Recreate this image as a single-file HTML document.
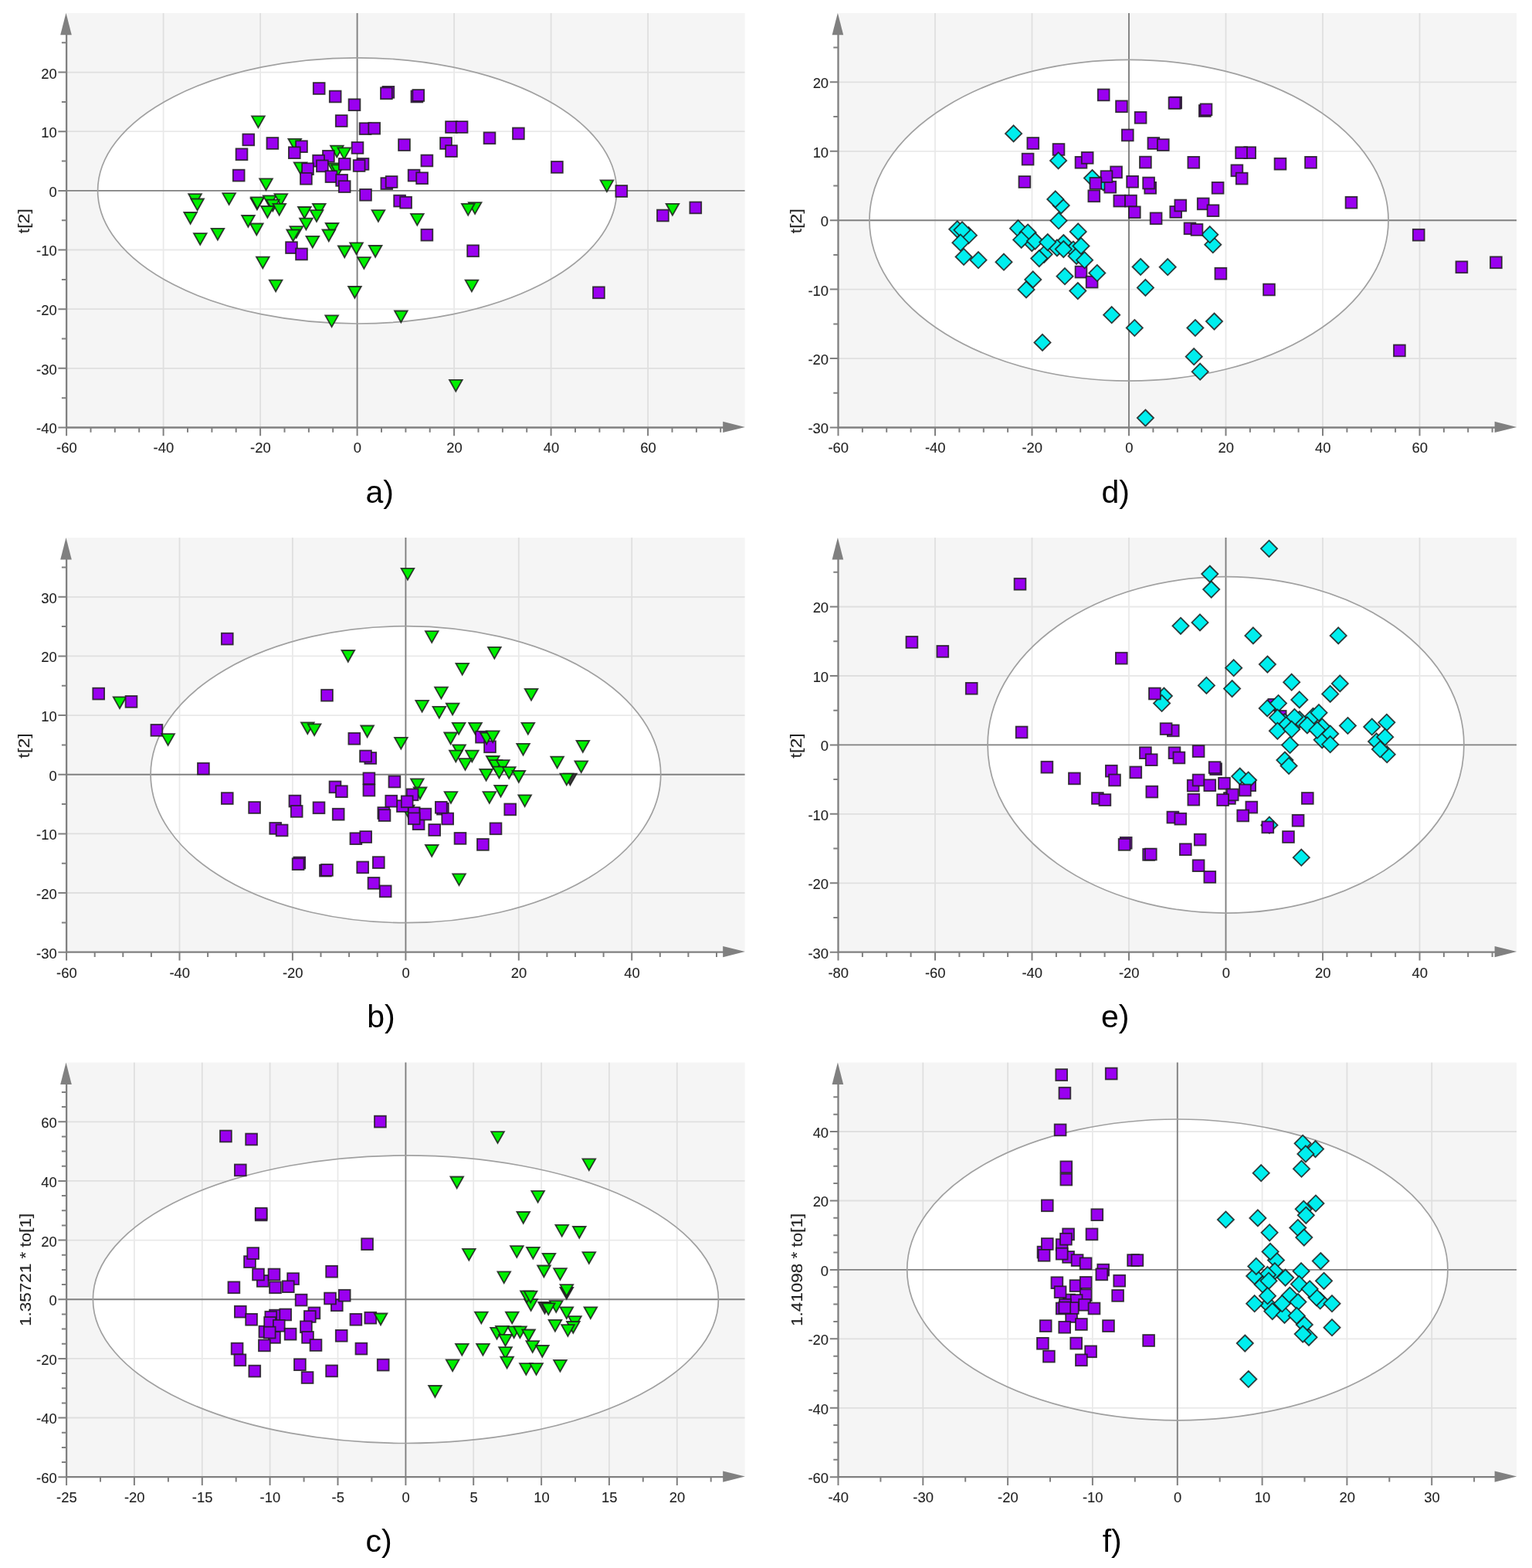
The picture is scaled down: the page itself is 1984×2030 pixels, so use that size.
<!DOCTYPE html>
<html lang="en">
<head>
<meta charset="utf-8">
<title>Score plots</title>
<style>
html,body{margin:0;padding:0;background:#fff}
body{width:1984px;height:2030px;overflow:hidden}
svg{display:block}
text{font-family:"Liberation Sans","DejaVu Sans",sans-serif}
.tl text{font-size:18.4px;fill:#222222;stroke:#222;stroke-width:.1px}
.at{font-size:20px;fill:#222222;stroke:#222;stroke-width:.1px}
.pl{font-size:41px;fill:#000}
.q{fill:#9a00f0;stroke:#1c1c1c;stroke-width:1.8;stroke-opacity:.85}
.t{fill:#00f000;stroke:#1c1c1c;stroke-width:1.8;stroke-linejoin:miter;stroke-opacity:.85}
.k{fill:#3a3a3a}
.d{fill:#00eeee;stroke:#1c1c1c;stroke-width:1.8;stroke-linejoin:miter;stroke-opacity:.85}
</style>
</head>
<body>
<svg width="1984" height="2030" viewBox="0 0 1984 2030">
<rect width="1984" height="2030" fill="#fff"/>
<g>
<rect x="86.1" y="16.9" width="878.5" height="536.6" fill="#f5f5f5"/>
<ellipse cx="462.6" cy="246.9" rx="336" ry="172.1" fill="#fff"/>
<path d="M211.6 16.9V553.5M337.1 16.9V553.5M588.1 16.9V553.5M713.6 16.9V553.5M839.1 16.9V553.5M86.1 476.8H964.6M86.1 400.2H964.6M86.1 323.5H964.6M86.1 170.2H964.6M86.1 93.6H964.6" stroke="#000" stroke-opacity="0.085" stroke-width="1.8" fill="none"/>
<path d="M462.6 16.9V553.5M86.1 246.9H964.6" stroke="#808080" stroke-width="1.9" fill="none"/>
<ellipse cx="462.6" cy="246.9" rx="336" ry="172.1" fill="none" stroke="#a0a0a0" stroke-width="1.7"/>
<path class="t k" d="M324.6 256.7h16.7l-8.4 14.8z"/>
<rect class="q" x="495.5" y="111.9" width="14.8" height="14.8"/>
<rect class="q" x="532.5" y="117.6" width="14.8" height="14.8"/>
<path class="t" d="M326.1 150.4h16.7l-8.4 14.8z"/>
<path class="t" d="M336.2 231.3h16.7l-8.4 14.8z"/>
<path class="t" d="M373.4 179.8h16.7l-8.4 14.8z"/>
<path class="t" d="M428 188.6h16.7l-8.4 14.8z"/>
<path class="t" d="M437.4 191.4h16.7l-8.4 14.8z"/>
<path class="t" d="M380.7 210.3h16.7l-8.4 14.8z"/>
<path class="t" d="M424.8 211.3h16.7l-8.4 14.8z"/>
<path class="t" d="M429 213.4h16.7l-8.4 14.8z"/>
<path class="t" d="M244.2 251.2h16.7l-8.4 14.8z"/>
<path class="t" d="M247.3 257.5h16.7l-8.4 14.8z"/>
<path class="t" d="M288.3 250.2h16.7l-8.4 14.8z"/>
<path class="t" d="M238.3 275h16.7l-8.4 14.8z"/>
<path class="t" d="M250.9 302.1h16.7l-8.4 14.8z"/>
<path class="t" d="M273.6 295.8h16.7l-8.4 14.8z"/>
<path class="t" d="M325 255.4h16.7l-8.4 14.8z"/>
<path class="t" d="M340.8 253.3h16.7l-8.4 14.8z"/>
<path class="t" d="M355.5 251.2h16.7l-8.4 14.8z"/>
<path class="t" d="M345 258.6h16.7l-8.4 14.8z"/>
<path class="t" d="M353.4 263.8h16.7l-8.4 14.8z"/>
<path class="t" d="M338.1 267h16.7l-8.4 14.8z"/>
<path class="t" d="M313.1 279h16.7l-8.4 14.8z"/>
<path class="t" d="M324 289.5h16.7l-8.4 14.8z"/>
<path class="t" d="M386 268h16.7l-8.4 14.8z"/>
<path class="t" d="M404.9 263.8h16.7l-8.4 14.8z"/>
<path class="t" d="M401.7 272.2h16.7l-8.4 14.8z"/>
<path class="t" d="M388.1 282.7h16.7l-8.4 14.8z"/>
<path class="t" d="M375.5 293.2h16.7l-8.4 14.8z"/>
<path class="t" d="M371.3 297.5h16.7l-8.4 14.8z"/>
<path class="t" d="M396.5 305.9h16.7l-8.4 14.8z"/>
<path class="t" d="M421.7 289h16.7l-8.4 14.8z"/>
<path class="t" d="M417.5 297.5h16.7l-8.4 14.8z"/>
<path class="t" d="M481.6 272.2h16.7l-8.4 14.8z"/>
<path class="t" d="M532 276.9h16.7l-8.4 14.8z"/>
<path class="t" d="M453.2 314.3h16.7l-8.4 14.8z"/>
<path class="t" d="M437.9 318.5h16.7l-8.4 14.8z"/>
<path class="t" d="M477.8 318h16.7l-8.4 14.8z"/>
<path class="t" d="M463.1 333.2h16.7l-8.4 14.8z"/>
<path class="t" d="M332 332.7h16.7l-8.4 14.8z"/>
<path class="t" d="M777.6 233.4h16.7l-8.4 14.8z"/>
<path class="t" d="M862.6 263.8h16.7l-8.4 14.8z"/>
<path class="t" d="M606.8 262.2h16.7l-8.4 14.8z"/>
<path class="t" d="M597.9 263.8h16.7l-8.4 14.8z"/>
<path class="t" d="M348.8 362.6h16.7l-8.4 14.8z"/>
<path class="t" d="M451.1 371h16.7l-8.4 14.8z"/>
<path class="t" d="M421.3 408.4h16.7l-8.4 14.8z"/>
<path class="t" d="M511 402.5h16.7l-8.4 14.8z"/>
<path class="t" d="M582 491.8h16.7l-8.4 14.8z"/>
<path class="t" d="M602.6 362.6h16.7l-8.4 14.8z"/>
<rect class="q" x="405.8" y="107.1" width="14.8" height="14.8"/>
<rect class="q" x="426.8" y="117.6" width="14.8" height="14.8"/>
<rect class="q" x="451.6" y="128.3" width="14.8" height="14.8"/>
<rect class="q" x="493" y="113.4" width="14.8" height="14.8"/>
<rect class="q" x="534.4" y="116.1" width="14.8" height="14.8"/>
<rect class="q" x="434.8" y="149.1" width="14.8" height="14.8"/>
<rect class="q" x="465.7" y="159.2" width="14.8" height="14.8"/>
<rect class="q" x="477.3" y="158.8" width="14.8" height="14.8"/>
<rect class="q" x="577.1" y="157.1" width="14.8" height="14.8"/>
<rect class="q" x="590.7" y="157.1" width="14.8" height="14.8"/>
<rect class="q" x="314.4" y="173.5" width="14.8" height="14.8"/>
<rect class="q" x="345.5" y="178.1" width="14.8" height="14.8"/>
<rect class="q" x="383.1" y="182.3" width="14.8" height="14.8"/>
<rect class="q" x="373.9" y="190.3" width="14.8" height="14.8"/>
<rect class="q" x="305.6" y="192.4" width="14.8" height="14.8"/>
<rect class="q" x="455.6" y="184" width="14.8" height="14.8"/>
<rect class="q" x="516.1" y="180.2" width="14.8" height="14.8"/>
<rect class="q" x="570.1" y="178.1" width="14.8" height="14.8"/>
<rect class="q" x="577.1" y="188.2" width="14.8" height="14.8"/>
<rect class="q" x="418" y="194.9" width="14.8" height="14.8"/>
<rect class="q" x="405.2" y="200.8" width="14.8" height="14.8"/>
<rect class="q" x="410" y="207.5" width="14.8" height="14.8"/>
<rect class="q" x="438.8" y="205" width="14.8" height="14.8"/>
<rect class="q" x="462.6" y="205" width="14.8" height="14.8"/>
<rect class="q" x="457.7" y="207.1" width="14.8" height="14.8"/>
<rect class="q" x="545.5" y="200.6" width="14.8" height="14.8"/>
<rect class="q" x="391.1" y="211.3" width="14.8" height="14.8"/>
<rect class="q" x="301.8" y="219.7" width="14.8" height="14.8"/>
<rect class="q" x="389" y="223.9" width="14.8" height="14.8"/>
<rect class="q" x="421.6" y="221.2" width="14.8" height="14.8"/>
<rect class="q" x="435.2" y="226" width="14.8" height="14.8"/>
<rect class="q" x="438.8" y="234.2" width="14.8" height="14.8"/>
<rect class="q" x="528.7" y="219.7" width="14.8" height="14.8"/>
<rect class="q" x="539.2" y="223.3" width="14.8" height="14.8"/>
<rect class="q" x="493.4" y="230.2" width="14.8" height="14.8"/>
<rect class="q" x="499.7" y="228.1" width="14.8" height="14.8"/>
<rect class="q" x="466.1" y="244.9" width="14.8" height="14.8"/>
<rect class="q" x="510.2" y="252.7" width="14.8" height="14.8"/>
<rect class="q" x="518.2" y="254.8" width="14.8" height="14.8"/>
<rect class="q" x="545.5" y="296.8" width="14.8" height="14.8"/>
<rect class="q" x="370.1" y="313.2" width="14.8" height="14.8"/>
<rect class="q" x="383.1" y="321.6" width="14.8" height="14.8"/>
<rect class="q" x="626.6" y="171.4" width="14.8" height="14.8"/>
<rect class="q" x="664" y="165.5" width="14.8" height="14.8"/>
<rect class="q" x="714" y="209" width="14.8" height="14.8"/>
<rect class="q" x="797.4" y="240.1" width="14.8" height="14.8"/>
<rect class="q" x="851" y="271.6" width="14.8" height="14.8"/>
<rect class="q" x="893.4" y="261.5" width="14.8" height="14.8"/>
<rect class="q" x="605.2" y="317.4" width="14.8" height="14.8"/>
<rect class="q" x="768" y="371.4" width="14.8" height="14.8"/>
<path d="M86.1 36.9V553.5H944.6" stroke="#808080" stroke-width="2.3" fill="none" stroke-linejoin="miter"/>
<path d="M85.5 16.7l7.3 28.6h-14.6z" fill="#808080"/>
<path d="M964.8 552.9l-28.6 -7.2v14.4z" fill="#808080"/>
<path d="M86.1 553.5v10.7M117.5 553.5v6.2M148.8 553.5v6.2M180.2 553.5v6.2M211.6 553.5v10.7M243 553.5v6.2M274.4 553.5v6.2M305.7 553.5v6.2M337.1 553.5v10.7M368.5 553.5v6.2M399.9 553.5v6.2M431.2 553.5v6.2M462.6 553.5v10.7M494 553.5v6.2M525.4 553.5v6.2M556.7 553.5v6.2M588.1 553.5v10.7M619.5 553.5v6.2M650.9 553.5v6.2M682.2 553.5v6.2M713.6 553.5v10.7M745 553.5v6.2M776.4 553.5v6.2M807.7 553.5v6.2M839.1 553.5v10.7M870.5 553.5v6.2M901.9 553.5v6.2M933.2 553.5v6.2M86.1 553.5h-10.7M86.1 515.2h-6.2M86.1 476.8h-10.7M86.1 438.5h-6.2M86.1 400.2h-10.7M86.1 361.9h-6.2M86.1 323.5h-10.7M86.1 285.2h-6.2M86.1 246.9h-10.7M86.1 208.5h-6.2M86.1 170.2h-10.7M86.1 131.9h-6.2M86.1 93.6h-10.7M86.1 55.2h-6.2" stroke="#808080" stroke-width="2.0" fill="none"/>
<g class="tl" text-anchor="middle">
<text x="86.4" y="586">-60</text>
<text x="211.9" y="586">-40</text>
<text x="337.4" y="586">-20</text>
<text x="462.9" y="586">0</text>
<text x="588.4" y="586">20</text>
<text x="713.9" y="586">40</text>
<text x="839.4" y="586">60</text>
</g>
<g class="tl" text-anchor="end">
<text x="73.7" y="561.4">-40</text>
<text x="73.7" y="484.7">-30</text>
<text x="73.7" y="408.1">-20</text>
<text x="73.7" y="331.4">-10</text>
<text x="73.7" y="254.8">0</text>
<text x="73.7" y="178.1">10</text>
<text x="73.7" y="101.5">20</text>
</g>
<text class="at" text-anchor="middle" transform="translate(38.3 286.2) rotate(-90)" textLength="32" lengthAdjust="spacingAndGlyphs">t[2]</text>
<text class="pl" text-anchor="middle" x="491.8" y="651.4">a)</text>
</g>
<g>
<rect x="86.1" y="696.1" width="878.5" height="536.6" fill="#f5f5f5"/>
<ellipse cx="525.4" cy="1002.7" rx="330.3" ry="192" fill="#fff"/>
<path d="M232.5 696.1V1232.7M378.9 696.1V1232.7M671.8 696.1V1232.7M818.2 696.1V1232.7M86.1 1156H964.6M86.1 1079.4H964.6M86.1 926.1H964.6M86.1 849.4H964.6M86.1 772.8H964.6" stroke="#000" stroke-opacity="0.085" stroke-width="1.8" fill="none"/>
<path d="M525.4 696.1V1232.7M86.1 1002.7H964.6" stroke="#808080" stroke-width="1.9" fill="none"/>
<ellipse cx="525.4" cy="1002.7" rx="330.3" ry="192" fill="none" stroke="#a0a0a0" stroke-width="1.7"/>
<path class="t k" d="M730.1 1001.6h16.7l-8.4 14.8z"/>
<path class="t" d="M519.9 1042.6h16.7l-8.4 14.8z"/>
<path class="t" d="M586.2 964.3h16.7l-8.4 14.8z"/>
<path class="t" d="M629.9 979h16.7l-8.4 14.8z"/>
<rect class="q" x="472.4" y="974.1" width="14.8" height="14.8"/>
<rect class="q" x="380.4" y="1109.6" width="14.8" height="14.8"/>
<rect class="q" x="414" y="1119.7" width="14.8" height="14.8"/>
<rect class="q" x="514" y="1036.2" width="14.8" height="14.8"/>
<rect class="q" x="489.4" y="1045.1" width="14.8" height="14.8"/>
<rect class="q" x="528.8" y="1045.1" width="14.8" height="14.8"/>
<rect class="q" x="534.7" y="1059.3" width="14.8" height="14.8"/>
<rect class="q" x="566" y="1039.8" width="14.8" height="14.8"/>
<rect class="q" x="572.3" y="1052.6" width="14.8" height="14.8"/>
<path class="t" d="M442.5 842h16.7l-8.4 14.8z"/>
<path class="t" d="M146.7 902.3h16.7l-8.4 14.8z"/>
<path class="t" d="M390 935.3h16.7l-8.4 14.8z"/>
<path class="t" d="M398.8 937.4h16.7l-8.4 14.8z"/>
<path class="t" d="M467.3 939.5h16.7l-8.4 14.8z"/>
<path class="t" d="M519.6 735.9h16.7l-8.4 14.8z"/>
<path class="t" d="M550.9 817.2h16.7l-8.4 14.8z"/>
<path class="t" d="M632 837.8h16.7l-8.4 14.8z"/>
<path class="t" d="M590.4 858.8h16.7l-8.4 14.8z"/>
<path class="t" d="M563.1 889.7h16.7l-8.4 14.8z"/>
<path class="t" d="M679.7 891.8h16.7l-8.4 14.8z"/>
<path class="t" d="M538.3 906.9h16.7l-8.4 14.8z"/>
<path class="t" d="M560.5 914.9h16.7l-8.4 14.8z"/>
<path class="t" d="M577.8 910.7h16.7l-8.4 14.8z"/>
<path class="t" d="M585.8 935.9h16.7l-8.4 14.8z"/>
<path class="t" d="M607.2 935.9h16.7l-8.4 14.8z"/>
<path class="t" d="M675.5 935.9h16.7l-8.4 14.8z"/>
<path class="t" d="M575.3 948.5h16.7l-8.4 14.8z"/>
<path class="t" d="M511 954.8h16.7l-8.4 14.8z"/>
<path class="t" d="M669.2 962.8h16.7l-8.4 14.8z"/>
<path class="t" d="M746.5 959h16.7l-8.4 14.8z"/>
<path class="t" d="M582 971.6h16.7l-8.4 14.8z"/>
<path class="t" d="M603 971.6h16.7l-8.4 14.8z"/>
<path class="t" d="M594.2 982.1h16.7l-8.4 14.8z"/>
<path class="t" d="M713.3 979.6h16.7l-8.4 14.8z"/>
<path class="t" d="M633.4 984.2h16.7l-8.4 14.8z"/>
<path class="t" d="M642.9 984.2h16.7l-8.4 14.8z"/>
<path class="t" d="M744.4 985.3h16.7l-8.4 14.8z"/>
<path class="t" d="M638.1 992.6h16.7l-8.4 14.8z"/>
<path class="t" d="M650.9 993.2h16.7l-8.4 14.8z"/>
<path class="t" d="M663.5 998h16.7l-8.4 14.8z"/>
<path class="t" d="M725.5 1001.6h16.7l-8.4 14.8z"/>
<path class="t" d="M671.3 1029.3h16.7l-8.4 14.8z"/>
<path class="t" d="M586.2 1131.4h16.7l-8.4 14.8z"/>
<path class="t" d="M621.3 995.8h16.7l-8.4 14.8z"/>
<path class="t" d="M532 1008.4h16.7l-8.4 14.8z"/>
<path class="t" d="M535.7 1019.5h16.7l-8.4 14.8z"/>
<path class="t" d="M575.6 1025.2h16.7l-8.4 14.8z"/>
<path class="t" d="M625.5 1025.2h16.7l-8.4 14.8z"/>
<path class="t" d="M640.2 1016.8h16.7l-8.4 14.8z"/>
<path class="t" d="M550.9 1094h16.7l-8.4 14.8z"/>
<rect class="q" x="286.9" y="819.7" width="14.8" height="14.8"/>
<rect class="q" x="120.3" y="890.7" width="14.8" height="14.8"/>
<rect class="q" x="162.6" y="901" width="14.8" height="14.8"/>
<rect class="q" x="195.5" y="938" width="14.8" height="14.8"/>
<rect class="q" x="416.1" y="892.8" width="14.8" height="14.8"/>
<rect class="q" x="451.4" y="948.9" width="14.8" height="14.8"/>
<rect class="q" x="466.1" y="971.6" width="14.8" height="14.8"/>
<rect class="q" x="256" y="987.8" width="14.8" height="14.8"/>
<rect class="q" x="616.1" y="946.8" width="14.8" height="14.8"/>
<rect class="q" x="627.1" y="959.4" width="14.8" height="14.8"/>
<rect class="q" x="286.9" y="1026.2" width="14.8" height="14.8"/>
<rect class="q" x="322.2" y="1038.1" width="14.8" height="14.8"/>
<rect class="q" x="374.5" y="1029.7" width="14.8" height="14.8"/>
<rect class="q" x="376.8" y="1043" width="14.8" height="14.8"/>
<rect class="q" x="405.6" y="1038.4" width="14.8" height="14.8"/>
<rect class="q" x="426.6" y="1011.5" width="14.8" height="14.8"/>
<rect class="q" x="435" y="1017.3" width="14.8" height="14.8"/>
<rect class="q" x="430.8" y="1046.8" width="14.8" height="14.8"/>
<rect class="q" x="349.3" y="1065" width="14.8" height="14.8"/>
<rect class="q" x="357.7" y="1067.6" width="14.8" height="14.8"/>
<rect class="q" x="453.5" y="1078.3" width="14.8" height="14.8"/>
<rect class="q" x="378.7" y="1111.3" width="14.8" height="14.8"/>
<rect class="q" x="416.1" y="1119" width="14.8" height="14.8"/>
<rect class="q" x="476.6" y="1136" width="14.8" height="14.8"/>
<rect class="q" x="491.8" y="1146.5" width="14.8" height="14.8"/>
<rect class="q" x="653.3" y="1040.5" width="14.8" height="14.8"/>
<rect class="q" x="470.5" y="1000.4" width="14.8" height="14.8"/>
<rect class="q" x="470.5" y="1015.7" width="14.8" height="14.8"/>
<rect class="q" x="503.5" y="1004.6" width="14.8" height="14.8"/>
<rect class="q" x="499.3" y="1029.8" width="14.8" height="14.8"/>
<rect class="q" x="526.7" y="1021.4" width="14.8" height="14.8"/>
<rect class="q" x="490.6" y="1048.2" width="14.8" height="14.8"/>
<rect class="q" x="543.5" y="1046.7" width="14.8" height="14.8"/>
<rect class="q" x="563.9" y="1037.9" width="14.8" height="14.8"/>
<rect class="q" x="555.3" y="1067.1" width="14.8" height="14.8"/>
<rect class="q" x="588.6" y="1078" width="14.8" height="14.8"/>
<rect class="q" x="618" y="1086" width="14.8" height="14.8"/>
<rect class="q" x="634.6" y="1065.4" width="14.8" height="14.8"/>
<rect class="q" x="466.3" y="1076.1" width="14.8" height="14.8"/>
<rect class="q" x="482.9" y="1109.2" width="14.8" height="14.8"/>
<rect class="q" x="462.3" y="1115.5" width="14.8" height="14.8"/>
<rect class="q" x="519.8" y="1030.4" width="14.8" height="14.8"/>
<rect class="q" x="528.8" y="1052.4" width="14.8" height="14.8"/>
<path class="t" d="M209.3 950.2h16.7l-8.4 14.8z"/>
<path class="t" d="M621.9 948.5h16.7l-8.4 14.8z"/>
<path class="t" d="M629.9 946.4h16.7l-8.4 14.8z"/>
<path d="M86.1 716.1V1232.7H944.6" stroke="#808080" stroke-width="2.3" fill="none" stroke-linejoin="miter"/>
<path d="M85.5 695.9l7.3 28.6h-14.6z" fill="#808080"/>
<path d="M964.8 1232.1l-28.6 -7.2v14.4z" fill="#808080"/>
<path d="M86.1 1232.7v10.7M122.7 1232.7v6.2M159.3 1232.7v6.2M195.9 1232.7v6.2M232.5 1232.7v10.7M269.1 1232.7v6.2M305.7 1232.7v6.2M342.3 1232.7v6.2M378.9 1232.7v10.7M415.5 1232.7v6.2M452.1 1232.7v6.2M488.7 1232.7v6.2M525.4 1232.7v10.7M562 1232.7v6.2M598.6 1232.7v6.2M635.2 1232.7v6.2M671.8 1232.7v10.7M708.4 1232.7v6.2M745 1232.7v6.2M781.6 1232.7v6.2M818.2 1232.7v10.7M854.8 1232.7v6.2M891.4 1232.7v6.2M928 1232.7v6.2M86.1 1232.7h-10.7M86.1 1194.4h-6.2M86.1 1156h-10.7M86.1 1117.7h-6.2M86.1 1079.4h-10.7M86.1 1041.1h-6.2M86.1 1002.7h-10.7M86.1 964.4h-6.2M86.1 926.1h-10.7M86.1 887.7h-6.2M86.1 849.4h-10.7M86.1 811.1h-6.2M86.1 772.8h-10.7M86.1 734.4h-6.2" stroke="#808080" stroke-width="2.0" fill="none"/>
<g class="tl" text-anchor="middle">
<text x="86.4" y="1265.7">-60</text>
<text x="232.8" y="1265.7">-40</text>
<text x="379.2" y="1265.7">-20</text>
<text x="525.6" y="1265.7">0</text>
<text x="672.1" y="1265.7">20</text>
<text x="818.5" y="1265.7">40</text>
</g>
<g class="tl" text-anchor="end">
<text x="73.7" y="1240.6">-30</text>
<text x="73.7" y="1163.9">-20</text>
<text x="73.7" y="1087.3">-10</text>
<text x="73.7" y="1010.6">0</text>
<text x="73.7" y="934">10</text>
<text x="73.7" y="857.3">20</text>
<text x="73.7" y="780.7">30</text>
</g>
<text class="at" text-anchor="middle" transform="translate(38.3 965.4) rotate(-90)" textLength="32" lengthAdjust="spacingAndGlyphs">t[2]</text>
<text class="pl" text-anchor="middle" x="493.4" y="1330.4">b)</text>
</g>
<g>
<rect x="86.1" y="1375.6" width="878.5" height="536.6" fill="#f5f5f5"/>
<ellipse cx="525.4" cy="1682.2" rx="405" ry="186.3" fill="#fff"/>
<path d="M173.9 1375.6V1912.2M261.8 1375.6V1912.2M349.6 1375.6V1912.2M437.5 1375.6V1912.2M613.2 1375.6V1912.2M701.1 1375.6V1912.2M788.9 1375.6V1912.2M876.8 1375.6V1912.2M86.1 1835.5H964.6M86.1 1758.9H964.6M86.1 1605.6H964.6M86.1 1528.9H964.6M86.1 1452.3H964.6" stroke="#000" stroke-opacity="0.085" stroke-width="1.8" fill="none"/>
<path d="M525.4 1375.6V1912.2M86.1 1682.2H964.6" stroke="#808080" stroke-width="1.9" fill="none"/>
<ellipse cx="525.4" cy="1682.2" rx="405" ry="186.3" fill="none" stroke="#a0a0a0" stroke-width="1.7"/>
<path class="t k" d="M725.5 1666.9h16.7l-8.4 14.8z"/>
<path class="t k" d="M697.2 1685.8h16.7l-8.4 14.8z"/>
<path class="t" d="M679.3 1682.1h16.7l-8.4 14.8z"/>
<rect class="q" x="349.1" y="1695.7" width="14.8" height="14.8"/>
<path class="t" d="M674.1 1671.3h16.7l-8.4 14.8z"/>
<path class="t" d="M711.9 1684.2h16.7l-8.4 14.8z"/>
<path class="t" d="M736.1 1704.2h16.7l-8.4 14.8z"/>
<path class="t" d="M734 1711h16.7l-8.4 14.8z"/>
<path class="t" d="M635.2 1718.9h16.7l-8.4 14.8z"/>
<path class="t" d="M657.3 1717.3h16.7l-8.4 14.8z"/>
<rect class="q" x="330.8" y="1565.5" width="14.8" height="14.8"/>
<rect class="q" x="316.1" y="1626.2" width="14.8" height="14.8"/>
<rect class="q" x="332.9" y="1651" width="14.8" height="14.8"/>
<rect class="q" x="372.2" y="1648.2" width="14.8" height="14.8"/>
<rect class="q" x="428.9" y="1682.4" width="14.8" height="14.8"/>
<rect class="q" x="343.4" y="1697.8" width="14.8" height="14.8"/>
<rect class="q" x="399.5" y="1692.5" width="14.8" height="14.8"/>
<rect class="q" x="335.5" y="1716.7" width="14.8" height="14.8"/>
<rect class="q" x="348.1" y="1724" width="14.8" height="14.8"/>
<rect class="q" x="342.2" y="1705.1" width="14.8" height="14.8"/>
<path class="t" d="M583.4 1523.5h16.7l-8.4 14.8z"/>
<path class="t" d="M636.2 1465.1h16.7l-8.4 14.8z"/>
<path class="t" d="M754.5 1500.4h16.7l-8.4 14.8z"/>
<path class="t" d="M688.3 1541.9h16.7l-8.4 14.8z"/>
<path class="t" d="M669.4 1569h16.7l-8.4 14.8z"/>
<path class="t" d="M719.4 1585.9h16.7l-8.4 14.8z"/>
<path class="t" d="M741.9 1588h16.7l-8.4 14.8z"/>
<path class="t" d="M599 1616.9h16.7l-8.4 14.8z"/>
<path class="t" d="M661 1613.2h16.7l-8.4 14.8z"/>
<path class="t" d="M682 1614.8h16.7l-8.4 14.8z"/>
<path class="t" d="M702.6 1622.8h16.7l-8.4 14.8z"/>
<path class="t" d="M754.5 1621.1h16.7l-8.4 14.8z"/>
<path class="t" d="M577.8 1760.4h16.7l-8.4 14.8z"/>
<path class="t" d="M555.1 1794h16.7l-8.4 14.8z"/>
<path class="t" d="M644.4 1646.4h16.7l-8.4 14.8z"/>
<path class="t" d="M696.1 1638.5h16.7l-8.4 14.8z"/>
<path class="t" d="M717.1 1642.2h16.7l-8.4 14.8z"/>
<path class="t" d="M725.5 1663.2h16.7l-8.4 14.8z"/>
<path class="t" d="M678.8 1671.6h16.7l-8.4 14.8z"/>
<path class="t" d="M701.9 1687.3h16.7l-8.4 14.8z"/>
<path class="t" d="M725.5 1692.3h16.7l-8.4 14.8z"/>
<path class="t" d="M756.5 1692.3h16.7l-8.4 14.8z"/>
<path class="t" d="M615 1698.6h16.7l-8.4 14.8z"/>
<path class="t" d="M654.9 1698.6h16.7l-8.4 14.8z"/>
<path class="t" d="M710.6 1708.9h16.7l-8.4 14.8z"/>
<path class="t" d="M727.1 1715.2h16.7l-8.4 14.8z"/>
<path class="t" d="M642 1716.8h16.7l-8.4 14.8z"/>
<path class="t" d="M665.1 1717.3h16.7l-8.4 14.8z"/>
<path class="t" d="M676.2 1721.5h16.7l-8.4 14.8z"/>
<path class="t" d="M646.2 1727.8h16.7l-8.4 14.8z"/>
<path class="t" d="M681.4 1736.2h16.7l-8.4 14.8z"/>
<path class="t" d="M694 1742h16.7l-8.4 14.8z"/>
<path class="t" d="M590 1739.9h16.7l-8.4 14.8z"/>
<path class="t" d="M617.1 1739.9h16.7l-8.4 14.8z"/>
<path class="t" d="M646.2 1744.1h16.7l-8.4 14.8z"/>
<path class="t" d="M648.3 1756.7h16.7l-8.4 14.8z"/>
<path class="t" d="M673 1765.1h16.7l-8.4 14.8z"/>
<path class="t" d="M686.2 1765.1h16.7l-8.4 14.8z"/>
<path class="t" d="M717.1 1760.9h16.7l-8.4 14.8z"/>
<rect class="q" x="485" y="1444.7" width="14.8" height="14.8"/>
<rect class="q" x="285" y="1463.6" width="14.8" height="14.8"/>
<rect class="q" x="318.2" y="1467.6" width="14.8" height="14.8"/>
<rect class="q" x="303.9" y="1507.5" width="14.8" height="14.8"/>
<rect class="q" x="330.8" y="1563.8" width="14.8" height="14.8"/>
<rect class="q" x="468.2" y="1603.3" width="14.8" height="14.8"/>
<rect class="q" x="320.3" y="1615.2" width="14.8" height="14.8"/>
<rect class="q" x="422.2" y="1638.8" width="14.8" height="14.8"/>
<rect class="q" x="327.1" y="1642.6" width="14.8" height="14.8"/>
<rect class="q" x="347.6" y="1642.6" width="14.8" height="14.8"/>
<rect class="q" x="295.5" y="1659.4" width="14.8" height="14.8"/>
<rect class="q" x="349.1" y="1659.4" width="14.8" height="14.8"/>
<rect class="q" x="365.9" y="1658.3" width="14.8" height="14.8"/>
<rect class="q" x="382.7" y="1675.7" width="14.8" height="14.8"/>
<rect class="q" x="420.1" y="1673.6" width="14.8" height="14.8"/>
<rect class="q" x="438.8" y="1669.8" width="14.8" height="14.8"/>
<rect class="q" x="303.9" y="1690.8" width="14.8" height="14.8"/>
<rect class="q" x="318.2" y="1700.9" width="14.8" height="14.8"/>
<rect class="q" x="362.3" y="1694.6" width="14.8" height="14.8"/>
<rect class="q" x="393.9" y="1697.1" width="14.8" height="14.8"/>
<rect class="q" x="453.5" y="1700.9" width="14.8" height="14.8"/>
<rect class="q" x="472.4" y="1698.8" width="14.8" height="14.8"/>
<rect class="q" x="353.9" y="1708.9" width="14.8" height="14.8"/>
<rect class="q" x="389" y="1710.4" width="14.8" height="14.8"/>
<rect class="q" x="368.7" y="1719.8" width="14.8" height="14.8"/>
<rect class="q" x="341.8" y="1717.7" width="14.8" height="14.8"/>
<rect class="q" x="391.1" y="1724" width="14.8" height="14.8"/>
<rect class="q" x="434.8" y="1721.9" width="14.8" height="14.8"/>
<rect class="q" x="335" y="1734.5" width="14.8" height="14.8"/>
<rect class="q" x="401.6" y="1734.1" width="14.8" height="14.8"/>
<rect class="q" x="299.7" y="1738.7" width="14.8" height="14.8"/>
<rect class="q" x="460.5" y="1738.7" width="14.8" height="14.8"/>
<rect class="q" x="303.5" y="1753.4" width="14.8" height="14.8"/>
<rect class="q" x="488.8" y="1759.7" width="14.8" height="14.8"/>
<rect class="q" x="381" y="1759.3" width="14.8" height="14.8"/>
<rect class="q" x="322.4" y="1767.7" width="14.8" height="14.8"/>
<rect class="q" x="422.2" y="1767.5" width="14.8" height="14.8"/>
<rect class="q" x="390.7" y="1776.1" width="14.8" height="14.8"/>
<path class="t" d="M484.7 1700.5h16.7l-8.4 14.8z"/>
<path d="M86.1 1395.6V1912.2H944.6" stroke="#808080" stroke-width="2.3" fill="none" stroke-linejoin="miter"/>
<path d="M85.5 1375.4l7.3 28.6h-14.6z" fill="#808080"/>
<path d="M964.8 1911.6l-28.6 -7.2v14.4z" fill="#808080"/>
<path d="M86.1 1912.2v10.7M130 1912.2v6.2M173.9 1912.2v10.7M217.9 1912.2v6.2M261.8 1912.2v10.7M305.7 1912.2v6.2M349.6 1912.2v10.7M393.6 1912.2v6.2M437.5 1912.2v10.7M481.4 1912.2v6.2M525.4 1912.2v10.7M569.3 1912.2v6.2M613.2 1912.2v10.7M657.1 1912.2v6.2M701.1 1912.2v10.7M745 1912.2v6.2M788.9 1912.2v10.7M832.8 1912.2v6.2M876.8 1912.2v10.7M920.7 1912.2v6.2M86.1 1912.2h-10.7M86.1 1893h-6.2M86.1 1873.9h-6.2M86.1 1854.7h-6.2M86.1 1835.5h-10.7M86.1 1816.4h-6.2M86.1 1797.2h-6.2M86.1 1778h-6.2M86.1 1758.9h-10.7M86.1 1739.7h-6.2M86.1 1720.6h-6.2M86.1 1701.4h-6.2M86.1 1682.2h-10.7M86.1 1663.1h-6.2M86.1 1643.9h-6.2M86.1 1624.7h-6.2M86.1 1605.6h-10.7M86.1 1586.4h-6.2M86.1 1567.2h-6.2M86.1 1548.1h-6.2M86.1 1528.9h-10.7M86.1 1509.7h-6.2M86.1 1490.6h-6.2M86.1 1471.4h-6.2M86.1 1452.3h-10.7M86.1 1433.1h-6.2M86.1 1413.9h-6.2" stroke="#808080" stroke-width="2.0" fill="none"/>
<g class="tl" text-anchor="middle">
<text x="86.4" y="1945">-25</text>
<text x="174.2" y="1945">-20</text>
<text x="262.1" y="1945">-15</text>
<text x="349.9" y="1945">-10</text>
<text x="437.8" y="1945">-5</text>
<text x="525.6" y="1945">0</text>
<text x="613.5" y="1945">5</text>
<text x="701.4" y="1945">10</text>
<text x="789.2" y="1945">15</text>
<text x="877" y="1945">20</text>
</g>
<g class="tl" text-anchor="end">
<text x="73.7" y="1920.1">-60</text>
<text x="73.7" y="1843.4">-40</text>
<text x="73.7" y="1766.8">-20</text>
<text x="73.7" y="1690.1">0</text>
<text x="73.7" y="1613.5">20</text>
<text x="73.7" y="1536.8">40</text>
<text x="73.7" y="1460.2">60</text>
</g>
<text class="at" text-anchor="middle" transform="translate(39.7 1643.9) rotate(-90)" textLength="146" lengthAdjust="spacingAndGlyphs">1.35721 * to[1]</text>
<text class="pl" text-anchor="middle" x="490.5" y="2009.3">c)</text>
</g>
<g>
<rect x="1085.5" y="16.9" width="878.5" height="536.6" fill="#f5f5f5"/>
<ellipse cx="1462" cy="285.2" rx="336" ry="207.9" fill="#fff"/>
<path d="M1211 16.9V553.5M1336.5 16.9V553.5M1587.5 16.9V553.5M1713 16.9V553.5M1838.5 16.9V553.5M1085.5 464.1H1964M1085.5 374.6H1964M1085.5 195.8H1964M1085.5 106.3H1964" stroke="#000" stroke-opacity="0.085" stroke-width="1.8" fill="none"/>
<path d="M1462 16.9V553.5M1085.5 285.2H1964" stroke="#808080" stroke-width="1.9" fill="none"/>
<ellipse cx="1462" cy="285.2" rx="336" ry="207.9" fill="none" stroke="#a0a0a0" stroke-width="1.7"/>
<path class="d" d="M1414.5 220l10.6 10.6l-10.6 10.6l-10.6 -10.6z"/>
<path class="d" d="M1428.8 225.3l10.6 10.6l-10.6 10.6l-10.6 -10.6z"/>
<path class="d" d="M1374.2 255.3l10.6 10.6l-10.6 10.6l-10.6 -10.6z"/>
<path class="d" d="M1239.7 286.2l10.6 10.6l-10.6 10.6l-10.6 -10.6z"/>
<path class="d" d="M1254.4 294.1l10.6 10.6l-10.6 10.6l-10.6 -10.6z"/>
<path class="d" d="M1336.3 304l10.6 10.6l-10.6 10.6l-10.6 -10.6z"/>
<path class="d" d="M1377.3 304l10.6 10.6l-10.6 10.6l-10.6 -10.6z"/>
<path class="d" d="M1368.9 310.3l10.6 10.6l-10.6 10.6l-10.6 -10.6z"/>
<path class="d" d="M1389.9 312.4l10.6 10.6l-10.6 10.6l-10.6 -10.6z"/>
<path class="d" d="M1352.1 318.7l10.6 10.6l-10.6 10.6l-10.6 -10.6z"/>
<path class="d" d="M1394.1 320.8l10.6 10.6l-10.6 10.6l-10.6 -10.6z"/>
<path class="d" d="M1570.8 306.1l10.6 10.6l-10.6 10.6l-10.6 -10.6z"/>
<rect class="q" x="1486.5" y="178.1" width="14.8" height="14.8"/>
<rect class="q" x="1392.6" y="202.9" width="14.8" height="14.8"/>
<rect class="q" x="1430.4" y="234.8" width="14.8" height="14.8"/>
<rect class="q" x="1482.3" y="235.9" width="14.8" height="14.8"/>
<rect class="q" x="1392.6" y="344.7" width="14.8" height="14.8"/>
<rect class="q" x="1406.7" y="357.7" width="14.8" height="14.8"/>
<rect class="q" x="1515.3" y="125.6" width="14.8" height="14.8"/>
<rect class="q" x="1552.9" y="136.1" width="14.8" height="14.8"/>
<rect class="q" x="1611.3" y="190.3" width="14.8" height="14.8"/>
<rect class="q" x="1594.5" y="213.4" width="14.8" height="14.8"/>
<rect class="q" x="1515.3" y="267" width="14.8" height="14.8"/>
<rect class="q" x="1533.6" y="288.4" width="14.8" height="14.8"/>
<path class="d" d="M1312.6 162.3l10.6 10.6l-10.6 10.6l-10.6 -10.6z"/>
<path class="d" d="M1366.8 247.3l10.6 10.6l-10.6 10.6l-10.6 -10.6z"/>
<path class="d" d="M1371 275.1l10.6 10.6l-10.6 10.6l-10.6 -10.6z"/>
<path class="d" d="M1246 287.2l10.6 10.6l-10.6 10.6l-10.6 -10.6z"/>
<path class="d" d="M1243.9 303.6l10.6 10.6l-10.6 10.6l-10.6 -10.6z"/>
<path class="d" d="M1318.5 285.1l10.6 10.6l-10.6 10.6l-10.6 -10.6z"/>
<path class="d" d="M1331.1 290.4l10.6 10.6l-10.6 10.6l-10.6 -10.6z"/>
<path class="d" d="M1322.7 299.8l10.6 10.6l-10.6 10.6l-10.6 -10.6z"/>
<path class="d" d="M1340.5 301.5l10.6 10.6l-10.6 10.6l-10.6 -10.6z"/>
<path class="d" d="M1356.7 303l10.6 10.6l-10.6 10.6l-10.6 -10.6z"/>
<path class="d" d="M1396.2 289.3l10.6 10.6l-10.6 10.6l-10.6 -10.6z"/>
<path class="d" d="M1377.3 312l10.6 10.6l-10.6 10.6l-10.6 -10.6z"/>
<path class="d" d="M1400 307.8l10.6 10.6l-10.6 10.6l-10.6 -10.6z"/>
<path class="d" d="M1345.8 324l10.6 10.6l-10.6 10.6l-10.6 -10.6z"/>
<path class="d" d="M1404.6 326.1l10.6 10.6l-10.6 10.6l-10.6 -10.6z"/>
<path class="d" d="M1248.1 321.9l10.6 10.6l-10.6 10.6l-10.6 -10.6z"/>
<path class="d" d="M1267 326.1l10.6 10.6l-10.6 10.6l-10.6 -10.6z"/>
<path class="d" d="M1300 328.6l10.6 10.6l-10.6 10.6l-10.6 -10.6z"/>
<path class="d" d="M1379 347.1l10.6 10.6l-10.6 10.6l-10.6 -10.6z"/>
<path class="d" d="M1420.8 342.9l10.6 10.6l-10.6 10.6l-10.6 -10.6z"/>
<path class="d" d="M1477.1 334.9l10.6 10.6l-10.6 10.6l-10.6 -10.6z"/>
<path class="d" d="M1337.8 351.3l10.6 10.6l-10.6 10.6l-10.6 -10.6z"/>
<path class="d" d="M1329 364.3l10.6 10.6l-10.6 10.6l-10.6 -10.6z"/>
<path class="d" d="M1395.8 366l10.6 10.6l-10.6 10.6l-10.6 -10.6z"/>
<path class="d" d="M1483.4 361.8l10.6 10.6l-10.6 10.6l-10.6 -10.6z"/>
<path class="d" d="M1439.7 397.1l10.6 10.6l-10.6 10.6l-10.6 -10.6z"/>
<path class="d" d="M1469.3 413.9l10.6 10.6l-10.6 10.6l-10.6 -10.6z"/>
<path class="d" d="M1350 432.8l10.6 10.6l-10.6 10.6l-10.6 -10.6z"/>
<path class="d" d="M1483.4 530.5l10.6 10.6l-10.6 10.6l-10.6 -10.6z"/>
<path class="d" d="M1566.8 293.1l10.6 10.6l-10.6 10.6l-10.6 -10.6z"/>
<path class="d" d="M1512.2 335.1l10.6 10.6l-10.6 10.6l-10.6 -10.6z"/>
<path class="d" d="M1572.5 405.5l10.6 10.6l-10.6 10.6l-10.6 -10.6z"/>
<path class="d" d="M1547.9 413.9l10.6 10.6l-10.6 10.6l-10.6 -10.6z"/>
<path class="d" d="M1546.2 451.1l10.6 10.6l-10.6 10.6l-10.6 -10.6z"/>
<path class="d" d="M1554.2 470.6l10.6 10.6l-10.6 10.6l-10.6 -10.6z"/>
<rect class="q" x="1421.8" y="115.5" width="14.8" height="14.8"/>
<rect class="q" x="1445.1" y="130.4" width="14.8" height="14.8"/>
<rect class="q" x="1469.7" y="144.9" width="14.8" height="14.8"/>
<rect class="q" x="1452.9" y="167.6" width="14.8" height="14.8"/>
<rect class="q" x="1330.4" y="178.1" width="14.8" height="14.8"/>
<rect class="q" x="1363.6" y="186.1" width="14.8" height="14.8"/>
<rect class="q" x="1323.7" y="198.7" width="14.8" height="14.8"/>
<rect class="q" x="1400.8" y="197" width="14.8" height="14.8"/>
<rect class="q" x="1476" y="202.7" width="14.8" height="14.8"/>
<rect class="q" x="1438.2" y="215.5" width="14.8" height="14.8"/>
<rect class="q" x="1425.6" y="221.2" width="14.8" height="14.8"/>
<rect class="q" x="1319.5" y="228.1" width="14.8" height="14.8"/>
<rect class="q" x="1411.5" y="230" width="14.8" height="14.8"/>
<rect class="q" x="1459.2" y="227.9" width="14.8" height="14.8"/>
<rect class="q" x="1480.2" y="229.6" width="14.8" height="14.8"/>
<rect class="q" x="1409.4" y="246.4" width="14.8" height="14.8"/>
<rect class="q" x="1442.4" y="252.7" width="14.8" height="14.8"/>
<rect class="q" x="1457.1" y="252.7" width="14.8" height="14.8"/>
<rect class="q" x="1461.9" y="267.4" width="14.8" height="14.8"/>
<rect class="q" x="1489.7" y="275.4" width="14.8" height="14.8"/>
<rect class="q" x="1513.6" y="126" width="14.8" height="14.8"/>
<rect class="q" x="1554.6" y="134.4" width="14.8" height="14.8"/>
<rect class="q" x="1498.9" y="180.2" width="14.8" height="14.8"/>
<rect class="q" x="1538.4" y="202.9" width="14.8" height="14.8"/>
<rect class="q" x="1600.2" y="190.3" width="14.8" height="14.8"/>
<rect class="q" x="1650.6" y="204.8" width="14.8" height="14.8"/>
<rect class="q" x="1690.1" y="202.9" width="14.8" height="14.8"/>
<rect class="q" x="1600.8" y="223.7" width="14.8" height="14.8"/>
<rect class="q" x="1569.7" y="235.9" width="14.8" height="14.8"/>
<rect class="q" x="1521.4" y="258.6" width="14.8" height="14.8"/>
<rect class="q" x="1550.8" y="256.5" width="14.8" height="14.8"/>
<rect class="q" x="1563.6" y="265.3" width="14.8" height="14.8"/>
<rect class="q" x="1742.6" y="254.8" width="14.8" height="14.8"/>
<rect class="q" x="1542.6" y="290" width="14.8" height="14.8"/>
<rect class="q" x="1573.5" y="346.8" width="14.8" height="14.8"/>
<rect class="q" x="1636.1" y="367.6" width="14.8" height="14.8"/>
<rect class="q" x="1829.8" y="296.8" width="14.8" height="14.8"/>
<rect class="q" x="1885.5" y="338.4" width="14.8" height="14.8"/>
<rect class="q" x="1805" y="446.5" width="14.8" height="14.8"/>
<rect class="q" x="1930" y="332.4" width="14.8" height="14.8"/>
<path class="d" d="M1370.6 197.3l10.6 10.6l-10.6 10.6l-10.6 -10.6z"/>
<path d="M1085.5 36.9V553.5H1944" stroke="#808080" stroke-width="2.3" fill="none" stroke-linejoin="miter"/>
<path d="M1084.9 16.7l7.3 28.6h-14.6z" fill="#808080"/>
<path d="M1964.2 552.9l-28.6 -7.2v14.4z" fill="#808080"/>
<path d="M1085.5 553.5v10.7M1116.9 553.5v6.2M1148.2 553.5v6.2M1179.6 553.5v6.2M1211 553.5v10.7M1242.4 553.5v6.2M1273.8 553.5v6.2M1305.1 553.5v6.2M1336.5 553.5v10.7M1367.9 553.5v6.2M1399.2 553.5v6.2M1430.6 553.5v6.2M1462 553.5v10.7M1493.4 553.5v6.2M1524.8 553.5v6.2M1556.1 553.5v6.2M1587.5 553.5v10.7M1618.9 553.5v6.2M1650.2 553.5v6.2M1681.6 553.5v6.2M1713 553.5v10.7M1744.4 553.5v6.2M1775.8 553.5v6.2M1807.1 553.5v6.2M1838.5 553.5v10.7M1869.9 553.5v6.2M1901.2 553.5v6.2M1932.6 553.5v6.2M1085.5 553.5h-10.7M1085.5 508.8h-6.2M1085.5 464.1h-10.7M1085.5 419.4h-6.2M1085.5 374.6h-10.7M1085.5 329.9h-6.2M1085.5 285.2h-10.7M1085.5 240.5h-6.2M1085.5 195.8h-10.7M1085.5 151.1h-6.2M1085.5 106.3h-10.7M1085.5 61.6h-6.2" stroke="#808080" stroke-width="2.0" fill="none"/>
<g class="tl" text-anchor="middle">
<text x="1085.8" y="586">-60</text>
<text x="1211.3" y="586">-40</text>
<text x="1336.8" y="586">-20</text>
<text x="1462.3" y="586">0</text>
<text x="1587.8" y="586">20</text>
<text x="1713.3" y="586">40</text>
<text x="1838.8" y="586">60</text>
</g>
<g class="tl" text-anchor="end">
<text x="1073.1" y="561.4">-30</text>
<text x="1073.1" y="472">-20</text>
<text x="1073.1" y="382.5">-10</text>
<text x="1073.1" y="293.1">0</text>
<text x="1073.1" y="203.7">10</text>
<text x="1073.1" y="114.2">20</text>
</g>
<text class="at" text-anchor="middle" transform="translate(1038.3 286.2) rotate(-90)" textLength="32" lengthAdjust="spacingAndGlyphs">t[2]</text>
<text class="pl" text-anchor="middle" x="1444.7" y="650.9">d)</text>
</g>
<g>
<rect x="1085.5" y="696.1" width="878.5" height="536.6" fill="#f5f5f5"/>
<ellipse cx="1587.5" cy="964.4" rx="308.4" ry="217.7" fill="#fff"/>
<path d="M1211 696.1V1232.7M1336.5 696.1V1232.7M1462 696.1V1232.7M1713 696.1V1232.7M1838.5 696.1V1232.7M1085.5 1143.3H1964M1085.5 1053.8H1964M1085.5 875H1964M1085.5 785.5H1964" stroke="#000" stroke-opacity="0.085" stroke-width="1.8" fill="none"/>
<path d="M1587.5 696.1V1232.7M1085.5 964.4H1964" stroke="#808080" stroke-width="1.9" fill="none"/>
<ellipse cx="1587.5" cy="964.4" rx="308.4" ry="217.7" fill="none" stroke="#a0a0a0" stroke-width="1.7"/>
<rect class="q" x="1642.4" y="904.9" width="14.8" height="14.8"/>
<rect class="q" x="1650.8" y="920" width="14.8" height="14.8"/>
<path class="d" d="M1722.7 887.8l10.6 10.6l-10.6 10.6l-10.6 -10.6z"/>
<path class="d" d="M1507.4 890.5l10.6 10.6l-10.6 10.6l-10.6 -10.6z"/>
<path class="d" d="M1641.2 906.3l10.6 10.6l-10.6 10.6l-10.6 -10.6z"/>
<path class="d" d="M1700.6 916.8l10.6 10.6l-10.6 10.6l-10.6 -10.6z"/>
<path class="d" d="M1663.9 924.1l10.6 10.6l-10.6 10.6l-10.6 -10.6z"/>
<path class="d" d="M1682.8 921l10.6 10.6l-10.6 10.6l-10.6 -10.6z"/>
<path class="d" d="M1712.2 930.4l10.6 10.6l-10.6 10.6l-10.6 -10.6z"/>
<path class="d" d="M1782.6 949.3l10.6 10.6l-10.6 10.6l-10.6 -10.6z"/>
<path class="d" d="M1712.2 947.2l10.6 10.6l-10.6 10.6l-10.6 -10.6z"/>
<path class="d" d="M1796.2 966.1l10.6 10.6l-10.6 10.6l-10.6 -10.6z"/>
<path class="d" d="M1663.9 973.5l10.6 10.6l-10.6 10.6l-10.6 -10.6z"/>
<path class="d" d="M1605.7 994.5l10.6 10.6l-10.6 10.6l-10.6 -10.6z"/>
<path class="d" d="M1643.9 1057.6l10.6 10.6l-10.6 10.6l-10.6 -10.6z"/>
<rect class="q" x="1511.9" y="938.5" width="14.8" height="14.8"/>
<rect class="q" x="1513.6" y="967.3" width="14.8" height="14.8"/>
<rect class="q" x="1567.2" y="988.3" width="14.8" height="14.8"/>
<rect class="q" x="1537.8" y="1009.7" width="14.8" height="14.8"/>
<rect class="q" x="1611.3" y="1009.3" width="14.8" height="14.8"/>
<rect class="q" x="1585" y="1026.1" width="14.8" height="14.8"/>
<rect class="q" x="1511.5" y="1050.7" width="14.8" height="14.8"/>
<rect class="q" x="1476" y="967.3" width="14.8" height="14.8"/>
<rect class="q" x="1431.9" y="990.8" width="14.8" height="14.8"/>
<rect class="q" x="1414" y="1026.1" width="14.8" height="14.8"/>
<rect class="q" x="1450.8" y="1083.9" width="14.8" height="14.8"/>
<rect class="q" x="1480.2" y="1099" width="14.8" height="14.8"/>
<path class="d" d="M1643.5 699.7l10.6 10.6l-10.6 10.6l-10.6 -10.6z"/>
<path class="d" d="M1566.8 732.5l10.6 10.6l-10.6 10.6l-10.6 -10.6z"/>
<path class="d" d="M1568.7 752.5l10.6 10.6l-10.6 10.6l-10.6 -10.6z"/>
<path class="d" d="M1529 799.7l10.6 10.6l-10.6 10.6l-10.6 -10.6z"/>
<path class="d" d="M1554 795.3l10.6 10.6l-10.6 10.6l-10.6 -10.6z"/>
<path class="d" d="M1622.9 812.3l10.6 10.6l-10.6 10.6l-10.6 -10.6z"/>
<path class="d" d="M1733.2 812.3l10.6 10.6l-10.6 10.6l-10.6 -10.6z"/>
<path class="d" d="M1641.4 849.5l10.6 10.6l-10.6 10.6l-10.6 -10.6z"/>
<path class="d" d="M1597.7 854.1l10.6 10.6l-10.6 10.6l-10.6 -10.6z"/>
<path class="d" d="M1672.7 872.6l10.6 10.6l-10.6 10.6l-10.6 -10.6z"/>
<path class="d" d="M1562.4 876.8l10.6 10.6l-10.6 10.6l-10.6 -10.6z"/>
<path class="d" d="M1595.6 881l10.6 10.6l-10.6 10.6l-10.6 -10.6z"/>
<path class="d" d="M1735.3 874.3l10.6 10.6l-10.6 10.6l-10.6 -10.6z"/>
<path class="d" d="M1682.8 895.3l10.6 10.6l-10.6 10.6l-10.6 -10.6z"/>
<path class="d" d="M1504.6 899.9l10.6 10.6l-10.6 10.6l-10.6 -10.6z"/>
<path class="d" d="M1655.5 899.9l10.6 10.6l-10.6 10.6l-10.6 -10.6z"/>
<path class="d" d="M1708 912.1l10.6 10.6l-10.6 10.6l-10.6 -10.6z"/>
<path class="d" d="M1654.4 918.4l10.6 10.6l-10.6 10.6l-10.6 -10.6z"/>
<path class="d" d="M1676.5 917.8l10.6 10.6l-10.6 10.6l-10.6 -10.6z"/>
<path class="d" d="M1692.9 928.3l10.6 10.6l-10.6 10.6l-10.6 -10.6z"/>
<path class="d" d="M1745.4 928.9l10.6 10.6l-10.6 10.6l-10.6 -10.6z"/>
<path class="d" d="M1776.7 930.4l10.6 10.6l-10.6 10.6l-10.6 -10.6z"/>
<path class="d" d="M1795.8 924.7l10.6 10.6l-10.6 10.6l-10.6 -10.6z"/>
<path class="d" d="M1654.4 935.7l10.6 10.6l-10.6 10.6l-10.6 -10.6z"/>
<path class="d" d="M1672.7 933.6l10.6 10.6l-10.6 10.6l-10.6 -10.6z"/>
<path class="d" d="M1705.9 934.6l10.6 10.6l-10.6 10.6l-10.6 -10.6z"/>
<path class="d" d="M1722.7 939.4l10.6 10.6l-10.6 10.6l-10.6 -10.6z"/>
<path class="d" d="M1793.7 943.6l10.6 10.6l-10.6 10.6l-10.6 -10.6z"/>
<path class="d" d="M1722.7 953.1l10.6 10.6l-10.6 10.6l-10.6 -10.6z"/>
<path class="d" d="M1670.6 953.9l10.6 10.6l-10.6 10.6l-10.6 -10.6z"/>
<path class="d" d="M1787.4 959.4l10.6 10.6l-10.6 10.6l-10.6 -10.6z"/>
<path class="d" d="M1669.1 980.9l10.6 10.6l-10.6 10.6l-10.6 -10.6z"/>
<path class="d" d="M1616.6 999.4l10.6 10.6l-10.6 10.6l-10.6 -10.6z"/>
<path class="d" d="M1685.3 1099.6l10.6 10.6l-10.6 10.6l-10.6 -10.6z"/>
<rect class="q" x="1313.6" y="748.8" width="14.8" height="14.8"/>
<rect class="q" x="1173.5" y="824" width="14.8" height="14.8"/>
<rect class="q" x="1213.4" y="836" width="14.8" height="14.8"/>
<rect class="q" x="1250.8" y="883.9" width="14.8" height="14.8"/>
<rect class="q" x="1444.9" y="844.8" width="14.8" height="14.8"/>
<rect class="q" x="1315.7" y="940.6" width="14.8" height="14.8"/>
<rect class="q" x="1488" y="890.6" width="14.8" height="14.8"/>
<rect class="q" x="1502.7" y="936.2" width="14.8" height="14.8"/>
<rect class="q" x="1519.5" y="973.6" width="14.8" height="14.8"/>
<rect class="q" x="1544.7" y="965.2" width="14.8" height="14.8"/>
<rect class="q" x="1565.7" y="986.2" width="14.8" height="14.8"/>
<rect class="q" x="1544.7" y="1002.6" width="14.8" height="14.8"/>
<rect class="q" x="1559.4" y="1009.3" width="14.8" height="14.8"/>
<rect class="q" x="1578.1" y="1006.8" width="14.8" height="14.8"/>
<rect class="q" x="1605" y="1015.6" width="14.8" height="14.8"/>
<rect class="q" x="1588.8" y="1021.5" width="14.8" height="14.8"/>
<rect class="q" x="1576.2" y="1028.2" width="14.8" height="14.8"/>
<rect class="q" x="1538.4" y="1027.8" width="14.8" height="14.8"/>
<rect class="q" x="1685.9" y="1026.1" width="14.8" height="14.8"/>
<rect class="q" x="1613.4" y="1037.7" width="14.8" height="14.8"/>
<rect class="q" x="1602.3" y="1048.6" width="14.8" height="14.8"/>
<rect class="q" x="1521.4" y="1052.8" width="14.8" height="14.8"/>
<rect class="q" x="1673.7" y="1054.9" width="14.8" height="14.8"/>
<rect class="q" x="1634.4" y="1063.5" width="14.8" height="14.8"/>
<rect class="q" x="1661.1" y="1076.1" width="14.8" height="14.8"/>
<rect class="q" x="1546.8" y="1079.7" width="14.8" height="14.8"/>
<rect class="q" x="1527.9" y="1092.3" width="14.8" height="14.8"/>
<rect class="q" x="1544.7" y="1113.3" width="14.8" height="14.8"/>
<rect class="q" x="1559.4" y="1128" width="14.8" height="14.8"/>
<rect class="q" x="1483.8" y="976.3" width="14.8" height="14.8"/>
<rect class="q" x="1348.5" y="985.8" width="14.8" height="14.8"/>
<rect class="q" x="1384" y="1000.5" width="14.8" height="14.8"/>
<rect class="q" x="1436.1" y="1002.6" width="14.8" height="14.8"/>
<rect class="q" x="1463.4" y="992.5" width="14.8" height="14.8"/>
<rect class="q" x="1484.4" y="1017.7" width="14.8" height="14.8"/>
<rect class="q" x="1423.5" y="1028.2" width="14.8" height="14.8"/>
<rect class="q" x="1448.7" y="1086" width="14.8" height="14.8"/>
<rect class="q" x="1482.9" y="1098.6" width="14.8" height="14.8"/>
<path d="M1085.5 716.1V1232.7H1944" stroke="#808080" stroke-width="2.3" fill="none" stroke-linejoin="miter"/>
<path d="M1084.9 695.9l7.3 28.6h-14.6z" fill="#808080"/>
<path d="M1964.2 1232.1l-28.6 -7.2v14.4z" fill="#808080"/>
<path d="M1085.5 1232.7v10.7M1116.9 1232.7v6.2M1148.2 1232.7v6.2M1179.6 1232.7v6.2M1211 1232.7v10.7M1242.4 1232.7v6.2M1273.8 1232.7v6.2M1305.1 1232.7v6.2M1336.5 1232.7v10.7M1367.9 1232.7v6.2M1399.2 1232.7v6.2M1430.6 1232.7v6.2M1462 1232.7v10.7M1493.4 1232.7v6.2M1524.8 1232.7v6.2M1556.1 1232.7v6.2M1587.5 1232.7v10.7M1618.9 1232.7v6.2M1650.2 1232.7v6.2M1681.6 1232.7v6.2M1713 1232.7v10.7M1744.4 1232.7v6.2M1775.8 1232.7v6.2M1807.1 1232.7v6.2M1838.5 1232.7v10.7M1869.9 1232.7v6.2M1901.2 1232.7v6.2M1932.6 1232.7v6.2M1085.5 1232.7h-10.7M1085.5 1188h-6.2M1085.5 1143.3h-10.7M1085.5 1098.5h-6.2M1085.5 1053.8h-10.7M1085.5 1009.1h-6.2M1085.5 964.4h-10.7M1085.5 919.7h-6.2M1085.5 875h-10.7M1085.5 830.2h-6.2M1085.5 785.5h-10.7M1085.5 740.8h-6.2" stroke="#808080" stroke-width="2.0" fill="none"/>
<g class="tl" text-anchor="middle">
<text x="1085.8" y="1265.7">-80</text>
<text x="1211.3" y="1265.7">-60</text>
<text x="1336.8" y="1265.7">-40</text>
<text x="1462.3" y="1265.7">-20</text>
<text x="1587.8" y="1265.7">0</text>
<text x="1713.3" y="1265.7">20</text>
<text x="1838.8" y="1265.7">40</text>
</g>
<g class="tl" text-anchor="end">
<text x="1073.1" y="1240.6">-30</text>
<text x="1073.1" y="1151.2">-20</text>
<text x="1073.1" y="1061.7">-10</text>
<text x="1073.1" y="972.3">0</text>
<text x="1073.1" y="882.9">10</text>
<text x="1073.1" y="793.4">20</text>
</g>
<text class="at" text-anchor="middle" transform="translate(1038.3 965.4) rotate(-90)" textLength="32" lengthAdjust="spacingAndGlyphs">t[2]</text>
<text class="pl" text-anchor="middle" x="1444.3" y="1330.4">e)</text>
</g>
<g>
<rect x="1085.5" y="1375.6" width="878.5" height="536.6" fill="#f5f5f5"/>
<ellipse cx="1524.8" cy="1643.9" rx="350.1" ry="194.9" fill="#fff"/>
<path d="M1195.3 1375.6V1912.2M1305.1 1375.6V1912.2M1414.9 1375.6V1912.2M1634.6 1375.6V1912.2M1744.4 1375.6V1912.2M1854.2 1375.6V1912.2M1085.5 1822.8H1964M1085.5 1733.3H1964M1085.5 1554.5H1964M1085.5 1465H1964" stroke="#000" stroke-opacity="0.085" stroke-width="1.8" fill="none"/>
<path d="M1524.8 1375.6V1912.2M1085.5 1643.9H1964" stroke="#808080" stroke-width="1.9" fill="none"/>
<ellipse cx="1524.8" cy="1643.9" rx="350.1" ry="194.9" fill="none" stroke="#a0a0a0" stroke-width="1.7"/>
<rect class="q" x="1377.2" y="1675.6" width="14.8" height="14.8"/>
<path class="d" d="M1687.1 1469.7l10.6 10.6l-10.6 10.6l-10.6 -10.6z"/>
<path class="d" d="M1703.5 1477l10.6 10.6l-10.6 10.6l-10.6 -10.6z"/>
<path class="d" d="M1688.2 1554.7l10.6 10.6l-10.6 10.6l-10.6 -10.6z"/>
<path class="d" d="M1652.5 1620.9l10.6 10.6l-10.6 10.6l-10.6 -10.6z"/>
<path class="d" d="M1650.9 1635.1l10.6 10.6l-10.6 10.6l-10.6 -10.6z"/>
<path class="d" d="M1641.5 1639.8l10.6 10.6l-10.6 10.6l-10.6 -10.6z"/>
<path class="d" d="M1624.7 1641.4l10.6 10.6l-10.6 10.6l-10.6 -10.6z"/>
<path class="d" d="M1635.2 1652.4l10.6 10.6l-10.6 10.6l-10.6 -10.6z"/>
<path class="d" d="M1709.7 1673.4l10.6 10.6l-10.6 10.6l-10.6 -10.6z"/>
<path class="d" d="M1642.5 1678.6l10.6 10.6l-10.6 10.6l-10.6 -10.6z"/>
<path class="d" d="M1689.3 1704.4l10.6 10.6l-10.6 10.6l-10.6 -10.6z"/>
<path class="d" d="M1695 1720.7l10.6 10.6l-10.6 10.6l-10.6 -10.6z"/>
<rect class="q" x="1373.4" y="1519.7" width="14.8" height="14.8"/>
<rect class="q" x="1376.2" y="1590.5" width="14.8" height="14.8"/>
<rect class="q" x="1367.8" y="1604.2" width="14.8" height="14.8"/>
<rect class="q" x="1343.6" y="1613.7" width="14.8" height="14.8"/>
<rect class="q" x="1376.2" y="1620" width="14.8" height="14.8"/>
<rect class="q" x="1460.2" y="1624.2" width="14.8" height="14.8"/>
<rect class="q" x="1421.3" y="1636.7" width="14.8" height="14.8"/>
<rect class="q" x="1385.6" y="1657.2" width="14.8" height="14.8"/>
<rect class="q" x="1398.8" y="1669.3" width="14.8" height="14.8"/>
<rect class="q" x="1386.7" y="1676.1" width="14.8" height="14.8"/>
<rect class="q" x="1372" y="1681.9" width="14.8" height="14.8"/>
<rect class="q" x="1367.8" y="1686.6" width="14.8" height="14.8"/>
<rect class="q" x="1397.2" y="1681.9" width="14.8" height="14.8"/>
<rect class="q" x="1380.2" y="1697.1" width="14.8" height="14.8"/>
<path class="d" d="M1705 1669.2l10.6 10.6l-10.6 10.6l-10.6 -10.6z"/>
<path class="d" d="M1647.8 1687l10.6 10.6l-10.6 10.6l-10.6 -10.6z"/>
<path class="d" d="M1663.5 1691.8l10.6 10.6l-10.6 10.6l-10.6 -10.6z"/>
<rect class="q" x="1381.9" y="1686.1" width="14.8" height="14.8"/>
<path class="d" d="M1690.9 1483.3l10.6 10.6l-10.6 10.6l-10.6 -10.6z"/>
<path class="d" d="M1685.5 1502.6l10.6 10.6l-10.6 10.6l-10.6 -10.6z"/>
<path class="d" d="M1633.2 1508.1l10.6 10.6l-10.6 10.6l-10.6 -10.6z"/>
<path class="d" d="M1703.9 1547.4l10.6 10.6l-10.6 10.6l-10.6 -10.6z"/>
<path class="d" d="M1691.3 1562.7l10.6 10.6l-10.6 10.6l-10.6 -10.6z"/>
<path class="d" d="M1587.4 1568.4l10.6 10.6l-10.6 10.6l-10.6 -10.6z"/>
<path class="d" d="M1628.9 1566.3l10.6 10.6l-10.6 10.6l-10.6 -10.6z"/>
<path class="d" d="M1644.1 1585.2l10.6 10.6l-10.6 10.6l-10.6 -10.6z"/>
<path class="d" d="M1680.8 1578.9l10.6 10.6l-10.6 10.6l-10.6 -10.6z"/>
<path class="d" d="M1688.8 1591.5l10.6 10.6l-10.6 10.6l-10.6 -10.6z"/>
<path class="d" d="M1645.1 1609.8l10.6 10.6l-10.6 10.6l-10.6 -10.6z"/>
<path class="d" d="M1710.3 1622l10.6 10.6l-10.6 10.6l-10.6 -10.6z"/>
<path class="d" d="M1616.8 1774.9l10.6 10.6l-10.6 10.6l-10.6 -10.6z"/>
<path class="d" d="M1626.8 1628.8l10.6 10.6l-10.6 10.6l-10.6 -10.6z"/>
<path class="d" d="M1685.1 1635.1l10.6 10.6l-10.6 10.6l-10.6 -10.6z"/>
<path class="d" d="M1664.6 1643.5l10.6 10.6l-10.6 10.6l-10.6 -10.6z"/>
<path class="d" d="M1643 1647.7l10.6 10.6l-10.6 10.6l-10.6 -10.6z"/>
<path class="d" d="M1714.5 1647.7l10.6 10.6l-10.6 10.6l-10.6 -10.6z"/>
<path class="d" d="M1682.4 1651.9l10.6 10.6l-10.6 10.6l-10.6 -10.6z"/>
<path class="d" d="M1696.1 1658.2l10.6 10.6l-10.6 10.6l-10.6 -10.6z"/>
<path class="d" d="M1641.5 1667.1l10.6 10.6l-10.6 10.6l-10.6 -10.6z"/>
<path class="d" d="M1670.4 1666.6l10.6 10.6l-10.6 10.6l-10.6 -10.6z"/>
<path class="d" d="M1624.7 1677.1l10.6 10.6l-10.6 10.6l-10.6 -10.6z"/>
<path class="d" d="M1680.9 1675l10.6 10.6l-10.6 10.6l-10.6 -10.6z"/>
<path class="d" d="M1725 1677.1l10.6 10.6l-10.6 10.6l-10.6 -10.6z"/>
<path class="d" d="M1660.4 1677.1l10.6 10.6l-10.6 10.6l-10.6 -10.6z"/>
<path class="d" d="M1679.3 1692.8l10.6 10.6l-10.6 10.6l-10.6 -10.6z"/>
<path class="d" d="M1687.2 1716.5l10.6 10.6l-10.6 10.6l-10.6 -10.6z"/>
<path class="d" d="M1725 1708.1l10.6 10.6l-10.6 10.6l-10.6 -10.6z"/>
<path class="d" d="M1612.3 1728.5l10.6 10.6l-10.6 10.6l-10.6 -10.6z"/>
<rect class="q" x="1367.3" y="1384.2" width="14.8" height="14.8"/>
<rect class="q" x="1431.8" y="1382.6" width="14.8" height="14.8"/>
<rect class="q" x="1371.5" y="1407.8" width="14.8" height="14.8"/>
<rect class="q" x="1365.7" y="1455.5" width="14.8" height="14.8"/>
<rect class="q" x="1373.4" y="1503.4" width="14.8" height="14.8"/>
<rect class="q" x="1348.9" y="1553.4" width="14.8" height="14.8"/>
<rect class="q" x="1413.4" y="1565.3" width="14.8" height="14.8"/>
<rect class="q" x="1406.6" y="1590.5" width="14.8" height="14.8"/>
<rect class="q" x="1373" y="1596.8" width="14.8" height="14.8"/>
<rect class="q" x="1348.9" y="1603.1" width="14.8" height="14.8"/>
<rect class="q" x="1344.7" y="1617.9" width="14.8" height="14.8"/>
<rect class="q" x="1367.8" y="1615.8" width="14.8" height="14.8"/>
<rect class="q" x="1387.7" y="1624.2" width="14.8" height="14.8"/>
<rect class="q" x="1398.7" y="1628.4" width="14.8" height="14.8"/>
<rect class="q" x="1465.5" y="1624.2" width="14.8" height="14.8"/>
<rect class="q" x="1442.3" y="1650.8" width="14.8" height="14.8"/>
<rect class="q" x="1440.2" y="1670" width="14.8" height="14.8"/>
<rect class="q" x="1428.1" y="1709.2" width="14.8" height="14.8"/>
<rect class="q" x="1480.2" y="1728.1" width="14.8" height="14.8"/>
<rect class="q" x="1346.8" y="1709.2" width="14.8" height="14.8"/>
<rect class="q" x="1343" y="1731.9" width="14.8" height="14.8"/>
<rect class="q" x="1351" y="1748.7" width="14.8" height="14.8"/>
<rect class="q" x="1386.3" y="1731.7" width="14.8" height="14.8"/>
<rect class="q" x="1405.2" y="1742.4" width="14.8" height="14.8"/>
<rect class="q" x="1393" y="1753.4" width="14.8" height="14.8"/>
<rect class="q" x="1371.3" y="1710.9" width="14.8" height="14.8"/>
<rect class="q" x="1393" y="1707.1" width="14.8" height="14.8"/>
<rect class="q" x="1419.4" y="1642.5" width="14.8" height="14.8"/>
<rect class="q" x="1361.5" y="1653.3" width="14.8" height="14.8"/>
<rect class="q" x="1398.8" y="1653" width="14.8" height="14.8"/>
<rect class="q" x="1365.7" y="1665.3" width="14.8" height="14.8"/>
<rect class="q" x="1371.4" y="1685.6" width="14.8" height="14.8"/>
<rect class="q" x="1409.6" y="1686.6" width="14.8" height="14.8"/>
<path d="M1085.5 1395.6V1912.2H1944" stroke="#808080" stroke-width="2.3" fill="none" stroke-linejoin="miter"/>
<path d="M1084.9 1375.4l7.3 28.6h-14.6z" fill="#808080"/>
<path d="M1964.2 1911.6l-28.6 -7.2v14.4z" fill="#808080"/>
<path d="M1085.5 1912.2v10.7M1140.4 1912.2v6.2M1195.3 1912.2v10.7M1250.2 1912.2v6.2M1305.1 1912.2v10.7M1360 1912.2v6.2M1414.9 1912.2v10.7M1469.8 1912.2v6.2M1524.8 1912.2v10.7M1579.7 1912.2v6.2M1634.6 1912.2v10.7M1689.5 1912.2v6.2M1744.4 1912.2v10.7M1799.3 1912.2v6.2M1854.2 1912.2v10.7M1909.1 1912.2v6.2M1085.5 1912.2h-10.7M1085.5 1889.8h-6.2M1085.5 1867.5h-6.2M1085.5 1845.1h-6.2M1085.5 1822.8h-10.7M1085.5 1800.4h-6.2M1085.5 1778h-6.2M1085.5 1755.7h-6.2M1085.5 1733.3h-10.7M1085.5 1711h-6.2M1085.5 1688.6h-6.2M1085.5 1666.3h-6.2M1085.5 1643.9h-10.7M1085.5 1621.5h-6.2M1085.5 1599.2h-6.2M1085.5 1576.8h-6.2M1085.5 1554.5h-10.7M1085.5 1532.1h-6.2M1085.5 1509.7h-6.2M1085.5 1487.4h-6.2M1085.5 1465h-10.7M1085.5 1442.7h-6.2M1085.5 1420.3h-6.2" stroke="#808080" stroke-width="2.0" fill="none"/>
<g class="tl" text-anchor="middle">
<text x="1085.8" y="1945">-40</text>
<text x="1195.6" y="1945">-30</text>
<text x="1305.4" y="1945">-20</text>
<text x="1415.2" y="1945">-10</text>
<text x="1525" y="1945">0</text>
<text x="1634.9" y="1945">10</text>
<text x="1744.7" y="1945">20</text>
<text x="1854.5" y="1945">30</text>
</g>
<g class="tl" text-anchor="end">
<text x="1073.1" y="1920.1">-60</text>
<text x="1073.1" y="1830.7">-40</text>
<text x="1073.1" y="1741.2">-20</text>
<text x="1073.1" y="1651.8">0</text>
<text x="1073.1" y="1562.4">20</text>
<text x="1073.1" y="1472.9">40</text>
</g>
<text class="at" text-anchor="middle" transform="translate(1038.8 1643.9) rotate(-90)" textLength="146" lengthAdjust="spacingAndGlyphs">1.41098 * to[1]</text>
<text class="pl" text-anchor="middle" x="1440.2" y="2008.7">f)</text>
</g>
</svg>
</body>
</html>
